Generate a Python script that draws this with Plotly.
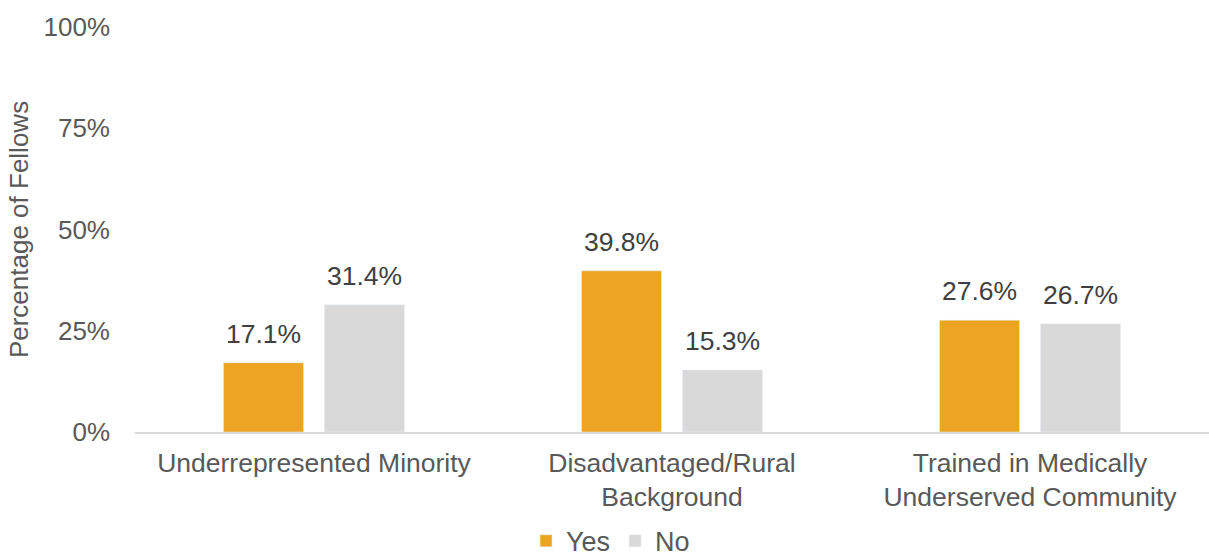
import plotly.graph_objects as go

categories = ["Underrepresented Minority", "Disadvantaged/Rural<br>Background",
              "Trained in Medically<br>Underserved Community"]
yes_values = [17.1, 39.8, 27.6]
no_values = [31.4, 15.3, 26.7]
tick_vals = [0, 25, 50, 75, 100]
tick_text = ["0%", "25%", "50%", "75%", "100%"]

font = "Liberation Sans, Arial, sans-serif"
txt = "#595959"
fs = 26
lab = "#404040"

BAR_OFFSET = 50.5  # pixel half-distance between grouped bars

fig = go.Figure()
fig.add_trace(go.Bar(name="Yes", x=categories, y=yes_values, marker_color="#EDA423"))
fig.add_trace(go.Bar(name="No", x=categories, y=no_values, marker_color="#D9D9D9"))

for vals, shift in ((yes_values, -BAR_OFFSET), (no_values, BAR_OFFSET)):
    for c, v in zip(categories, vals):
        fig.add_annotation(x=c, y=v, xref="x", yref="y", text=f"{v:.1f}%",
                           showarrow=False, xshift=shift, yshift=12, yanchor="bottom",
                           font=dict(size=26.5, color=lab, family=font))

fig.update_layout(
    width=1209, height=558,
    margin=dict(l=135, r=0, t=27, b=126),
    paper_bgcolor="white", plot_bgcolor="white",
    barmode="group", bargap=0.436, bargroupgap=0.208,
    font=dict(family=font, color=txt, size=fs),
    showlegend=True,
    legend=dict(orientation="h", xref="container", yref="container", x=0.505, xanchor="center",
                y=0.03, yanchor="middle", font=dict(size=27, color=txt), itemwidth=30,
                traceorder="normal"),
    xaxis=dict(showline=True, linecolor="#D9D9D9", linewidth=1.5, ticks="",
               tickfont=dict(size=26.5, color=txt), showgrid=False, automargin=False,
               ticklabelstandoff=6),
    yaxis=dict(range=[0, 100], tickvals=tick_vals, ticktext=tick_text, showgrid=False,
               zeroline=False, showline=False, tickfont=dict(size=fs, color=txt),
               ticklabelstandoff=24, automargin=False,
               title=dict(text="Percentage of Fellows", font=dict(size=fs, color=txt), standoff=7)),
)
fig.write_html("out.html", config={"displayModeBar": False},
               post_script="document.body.style.margin='0';document.body.style.overflow='hidden';")
